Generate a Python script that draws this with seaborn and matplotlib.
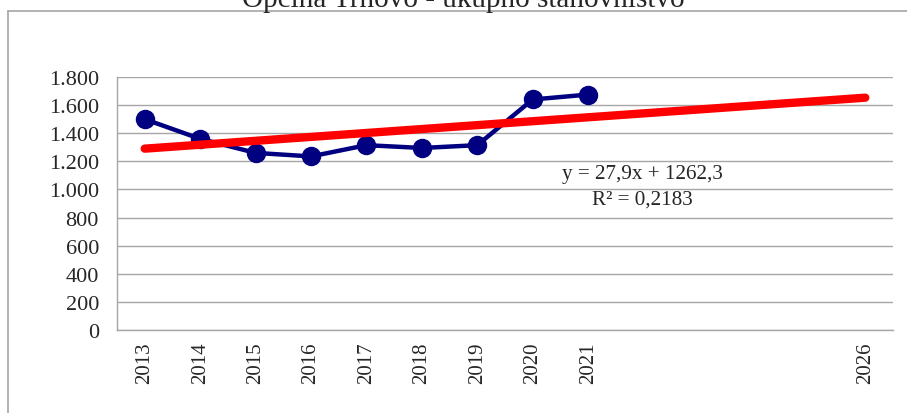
import numpy as np
import pandas as pd
import matplotlib
matplotlib.use('Agg')
import matplotlib.pyplot as plt
from matplotlib.lines import Line2D
import seaborn as sns

# Data
years = [2013, 2014, 2015, 2016, 2017, 2018, 2019, 2020, 2021]
population = [1500, 1360, 1260, 1235, 1315, 1295, 1315, 1640, 1675]
axis_years = list(range(2013, 2027))
shown_labels = ['2013', '2014', '2015', '2016', '2017', '2018', '2019', '2020', '2021',
                '', '', '', '', '2026']
y_ticks = [0, 200, 400, 600, 800, 1000, 1200, 1400, 1600, 1800]
y_tick_labels = ['0', '200', '400', '600', '800', '1.000', '1.200', '1.400', '1.600', '1.800']
trend_slope = 27.9
trend_intercept = 1262.3
title = 'Općina Trnovo - ukupno stanovništvo'
eq_text = 'y = 27,9x + 1262,3'
r2_text = 'R² = 0,2183'

sns.set_style('white')
plt.rcParams['font.family'] = ['Liberation Serif', 'DejaVu Serif']

df = pd.DataFrame({'year': years, 'pop': population})
trend_years = [axis_years[0], axis_years[-1]]
trend_df = pd.DataFrame({
    'year': trend_years,
    'pop': [trend_slope * (y - 2012) + trend_intercept for y in trend_years],
})

fig = plt.figure(figsize=(9.07, 4.14), dpi=100)
ax = fig.add_axes([117 / 907, 83 / 414, 776 / 907, 253 / 414])

grey = '#a6a6a6'
ax.set_ylim(0, 1800)
ax.set_xlim(axis_years[0] - 0.5, axis_years[-1] + 0.5)
ax.set_yticks(y_ticks)
ax.set_yticklabels(y_tick_labels)
ax.yaxis.grid(True, color=grey, linewidth=1)
ax.set_axisbelow(True)

# series and trend line
sns.lineplot(data=df, x='year', y='pop', ax=ax, color='#000080', linewidth=3.2,
             marker='o', markersize=14, markeredgewidth=0, zorder=3)
sns.lineplot(data=trend_df, x='year', y='pop', ax=ax, color='#ff0000', linewidth=6,
             solid_capstyle='round', zorder=4)

ax.set_xticks(axis_years)
ax.set_xticklabels(shown_labels, rotation=90)
ax.set_xticks([y - 0.5 for y in axis_years] + [axis_years[-1] + 0.5], minor=True)
ax.tick_params(axis='x', which='major', length=0, pad=8, labelsize=15)
ax.tick_params(axis='x', which='minor', length=6, color=grey, width=1, direction='out')
ax.tick_params(axis='y', length=5, color=grey, width=1, direction='out', labelsize=16, pad=8)
ax.set_xlabel('')
ax.set_ylabel('')

for side in ['top', 'right']:
    ax.spines[side].set_visible(False)
for side in ['left', 'bottom']:
    ax.spines[side].set_color(grey)
    ax.spines[side].set_linewidth(1)

fig.text(642 / 907, 1 - 175 / 414, eq_text, ha='center', va='center', fontsize=15.2)
fig.text(642 / 907, 1 - 200 / 414, r2_text, ha='center', va='center', fontsize=15.2)

# chart frame and cut-off title
fig.add_artist(Line2D([8 / 907, 1], [1 - 12 / 414, 1 - 12 / 414], color=grey, linewidth=1.2))
fig.add_artist(Line2D([8 / 907, 8 / 907], [0, 1 - 12 / 414], color=grey, linewidth=1.2))
fig.text(463 / 907, 1 - 7 / 414, title, ha='center', va='baseline', fontsize=21)

fig.savefig('out.png', dpi=100)
